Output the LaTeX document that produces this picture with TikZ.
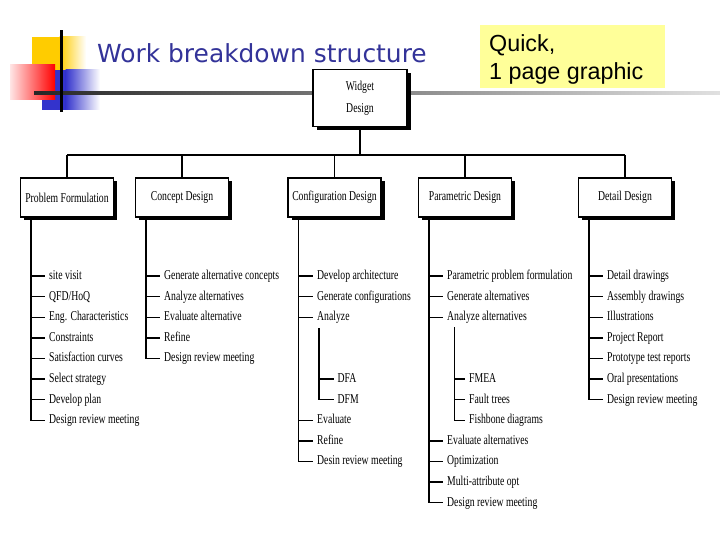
\documentclass[tikz,border=0pt]{standalone}
\usepackage{fontspec}
\setmainfont{Liberation Serif}
\newfontfamily\wbsfont[FakeStretch=0.72]{Liberation Serif}
\newfontfamily\titlefont{DejaVu Sans}
\newfontfamily\notefont{Liberation Sans}
\usetikzlibrary{shadows}
\definecolor{titleblue}{RGB}{51,51,153}
\definecolor{noteyellow}{RGB}{255,255,153}
\definecolor{decoyellow}{RGB}{255,204,0}
\definecolor{decoblue}{RGB}{51,51,204}
\definecolor{decored}{RGB}{255,0,0}
\tikzset{
  wbsbox/.style={draw=black, line width=1.3pt, fill=white, minimum width=93pt, minimum height=39pt,
    inner sep=0pt, align=center, font=\wbsfont\fontsize{13.5}{15}\selectfont,
    drop shadow={shadow xshift=3.5pt, shadow yshift=-3.5pt, fill=black, opacity=1}},
  tree/.style={line width=1.4pt, draw=black},
  item/.style={anchor=west, inner sep=0pt, text height=9.5pt, text depth=2.5pt,
    font=\wbsfont\fontsize{13.5}{15}\selectfont}
}
\begin{document}
\begin{tikzpicture}[x=1pt,y=-1pt]
\useasboundingbox (0,0) rectangle (720,540);
\fill[white] (0,0) rectangle (720,540);
% decoration
\fill[decoyellow] (32,37) rectangle (60,72);
\shade[left color=decoyellow, right color=white] (59.5,37) rectangle (86,72);
\fill[decoblue] (42,70) rectangle (66,110);
\shade[left color=decoblue, right color=white] (65.5,70) rectangle (100,110);
\shade[left color=decored!10, right color=decored] (10,65) rectangle (55,100);
\shade[left color=black!85, right color=black!12] (34,92) rectangle (720,94.5);
\fill[black] (60,30) rectangle (62.5,112);
% title
\node[anchor=base west, inner sep=0pt, text=titleblue, font=\titlefont\fontsize{24.9}{28}\selectfont] (title) at (97,63) {Work breakdown structure};
% note
\node[fill=noteyellow, anchor=north west, minimum width=185pt, minimum height=63pt, inner sep=0pt] (note) at (480,25) {};
\node[anchor=base west, inner sep=0pt, font=\notefont\fontsize{23.3}{28}\selectfont] (q1) at (489,52) {Quick,};
\node[anchor=base west, inner sep=0pt, font=\notefont\fontsize{23.3}{28}\selectfont] (q2) at (489,80) {1 page graphic};
% boxes
\node[wbsbox, minimum width=94pt, minimum height=57pt, font=\wbsfont\fontsize{13.5}{22}\selectfont] (wd) at (360,98) {Widget\\Design};
\node[wbsbox] (pf) at (67,197.5) {Problem Formulation};
\node[wbsbox] (cd) at (182,197.5) {Concept Design};
\node[wbsbox] (cf) at (334.5,197.5) {Configuration Design};
\node[wbsbox] (pd) at (465,197.5) {Parametric Design};
\node[wbsbox] (dd) at (625,197.5) {Detail Design};
\coordinate (bar) at (0,155);
\draw[tree] (wd.south) -- (wd.south |- bar);
\draw[tree] (pf.north |- bar) -- (dd.north |- bar);
\foreach \b in {pf,cd,cf,pd,dd} \draw[tree] (\b.north) -- (\b.north |- bar);
% children
\node[item] (pf1) at (49,276) {site visit};
\node[item] (pf2) at (49,296.6) {QFD/HoQ};
\node[item] (pf3) at (49,317.2) {Eng. Characteristics};
\node[item] (pf4) at (49,337.8) {Constraints};
\node[item] (pf5) at (49,358.4) {Satisfaction curves};
\node[item] (pf6) at (49,379) {Select strategy};
\node[item] (pf7) at (49,399.6) {Develop plan};
\node[item] (pf8) at (49,420.2) {Design review meeting};
\node[item] (cd1) at (164,276) {Generate alternative concepts};
\node[item] (cd2) at (164,296.6) {Analyze alternatives};
\node[item] (cd3) at (164,317.2) {Evaluate alternative};
\node[item] (cd4) at (164,337.8) {Refine};
\node[item] (cd5) at (164,358.4) {Design review meeting};
\node[item] (cf1) at (317,276) {Develop architecture};
\node[item] (cf2) at (317,296.6) {Generate configurations};
\node[item] (cf3) at (317,317.2) {Analyze};
\node[item] (cfa) at (337.5,379) {DFA};
\node[item] (cfb) at (337.5,399.6) {DFM};
\node[item] (cf4) at (317,420.2) {Evaluate};
\node[item] (cf5) at (317,440.8) {Refine};
\node[item] (cf6) at (317,461.4) {Desin review meeting};
\node[item] (pd1) at (447,276) {Parametric problem formulation};
\node[item] (pd2) at (447,296.6) {Generate alternatives};
\node[item] (pd3) at (447,317.2) {Analyze alternatives};
\node[item] (pda) at (469,379) {FMEA};
\node[item] (pdb) at (469,399.6) {Fault trees};
\node[item] (pdc) at (469,420.2) {Fishbone diagrams};
\node[item] (pd4) at (447,440.8) {Evaluate alternatives};
\node[item] (pd5) at (447,461.4) {Optimization};
\node[item] (pd6) at (447,482) {Multi-attribute opt};
\node[item] (pd7) at (447,502.6) {Design review meeting};
\node[item] (dd1) at (607,276) {Detail drawings};
\node[item] (dd2) at (607,296.6) {Assembly drawings};
\node[item] (dd3) at (607,317.2) {Illustrations};
\node[item] (dd4) at (607,337.8) {Project Report};
\node[item] (dd5) at (607,358.4) {Prototype test reports};
\node[item] (dd6) at (607,379) {Oral presentations};
\node[item] (dd7) at (607,399.6) {Design review meeting};
% trunks
\coordinate (pft) at ([xshift=11pt]pf.south west);
\coordinate (cdt) at ([xshift=11pt]cd.south west);
\coordinate (cft) at ([xshift=11pt]cf.south west);
\coordinate (pdt) at ([xshift=11pt]pd.south west);
\coordinate (ddt) at ([xshift=11pt]dd.south west);
\coordinate (cfs) at (319,328);
\coordinate (pds) at (454.5,327);
\foreach \c in {pf1,pf2,pf3,pf4,pf5,pf6,pf7} \draw[tree] (\c.west -| pft) -- ([xshift=-4pt]\c.west);
\draw[tree] (pft) |- ([xshift=-4pt]pf8.west);
\foreach \c in {cd1,cd2,cd3,cd4} \draw[tree] (\c.west -| cdt) -- ([xshift=-4pt]\c.west);
\draw[tree] (cdt) |- ([xshift=-4pt]cd5.west);
\foreach \c in {cf1,cf2,cf3,cf4,cf5} \draw[tree] (\c.west -| cft) -- ([xshift=-4pt]\c.west);
\draw[tree] (cft) |- ([xshift=-4pt]cf6.west);
\draw[tree] (cfa.west -| cfs) -- ([xshift=-4pt]cfa.west);
\draw[tree] (cfs) |- ([xshift=-4pt]cfb.west);
\foreach \c in {pd1,pd2,pd3,pd4,pd5,pd6} \draw[tree] (\c.west -| pdt) -- ([xshift=-4pt]\c.west);
\draw[tree] (pdt) |- ([xshift=-4pt]pd7.west);
\foreach \c in {pda,pdb} \draw[tree] (\c.west -| pds) -- ([xshift=-4pt]\c.west);
\draw[tree] (pds) |- ([xshift=-4pt]pdc.west);
\foreach \c in {dd1,dd2,dd3,dd4,dd5,dd6} \draw[tree] (\c.west -| ddt) -- ([xshift=-4pt]\c.west);
\draw[tree] (ddt) |- ([xshift=-4pt]dd7.west);
\end{tikzpicture}
\end{document}
